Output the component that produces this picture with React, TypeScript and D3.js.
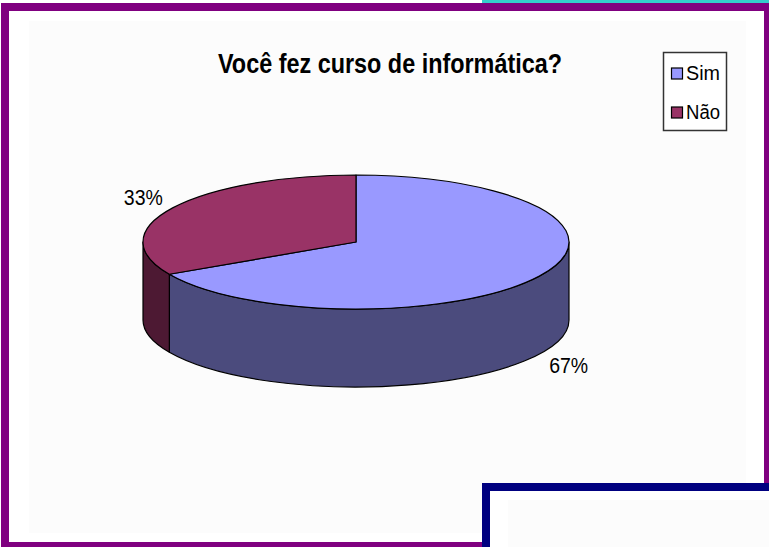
import * as d3 from "d3";
import { useEffect, useRef } from "react";

const categories = ["Sim", "Não"];
const values = [67, 33];
const labels = ["67%", "33%"];
const title = "Você fez curso de informática?";

const topColors = ["#9999ff", "#993366"];
const sideColors = ["#4b4b7d", "#4d1933"];

const W = 769;
const H = 547;

const App = () => {
  const ref = useRef<SVGSVGElement>(null);

  useEffect(() => {
    const svg = d3.select(ref.current);
    svg.selectAll("*").remove();

    // slide frames
    svg.append("rect").attr("x", 482).attr("y", 0).attr("width", 300).attr("height", 3).attr("fill", "#33cccc");
    svg.append("rect")
      .attr("x", 5).attr("y", 7).attr("width", 763).attr("height", 539)
      .attr("fill", "#ffffff").attr("stroke", "#800080").attr("stroke-width", 8);
    svg.append("rect").attr("x", 29).attr("y", 21).attr("width", 717).attr("height", 512).attr("fill", "#fcfcfc");
    svg.append("rect")
      .attr("x", 486).attr("y", 487).attr("width", 300).attr("height", 100)
      .attr("fill", "#ffffff").attr("stroke", "#000080").attr("stroke-width", 8);
    svg.append("rect").attr("x", 508).attr("y", 500).attr("width", 270).attr("height", 60).attr("fill", "#fcfcfc");

    // title
    svg.append("text")
      .attr("x", 390).attr("y", 73)
      .attr("text-anchor", "middle")
      .attr("font-family", "Liberation Sans, Arial, sans-serif")
      .attr("font-weight", "bold")
      .attr("font-size", 27)
      .attr("textLength", 344)
      .attr("lengthAdjust", "spacingAndGlyphs")
      .attr("fill", "#000")
      .text(title);

    // 3d pie
    const cx = 356, cy = 242, rx = 213, ry = 67, depth = 78;
    const pie = d3.pie<number>().sort(null).startAngle(0).endAngle(2 * Math.PI);
    const arcs = pie(values);

    const px = (a: number) => cx + rx * Math.sin(a);
    const py = (a: number) => cy - ry * Math.cos(a);

    const arcPath = (a0: number, a1: number, dy: number, sweep: number) => {
      const large = Math.abs(a1 - a0) > Math.PI ? 1 : 0;
      return `A${rx},${ry} 0 ${large} ${sweep} ${px(a1)},${py(a1) + dy}`;
    };

    const g = svg.append("g");

    // sides (front half only: pi/2 .. 3pi/2)
    arcs.forEach((d, i) => {
      const a0 = Math.max(d.startAngle, Math.PI / 2);
      const a1 = Math.min(d.endAngle, (3 * Math.PI) / 2);
      if (a1 <= a0) return;
      const p =
        `M${px(a0)},${py(a0)} ` + arcPath(a0, a1, 0, 1) +
        ` L${px(a1)},${py(a1) + depth} ` +
        `A${rx},${ry} 0 0 0 ${px(a0)},${py(a0) + depth} Z`;
      g.append("path")
        .attr("d", p)
        .attr("fill", sideColors[i])
        .attr("stroke", "#000")
        .attr("stroke-width", 1.2)
        .attr("stroke-linejoin", "round");
    });

    // tops
    arcs.forEach((d, i) => {
      const p =
        `M${cx},${cy} L${px(d.startAngle)},${py(d.startAngle)} ` +
        arcPath(d.startAngle, d.endAngle, 0, 1) + " Z";
      g.append("path")
        .attr("d", p)
        .attr("fill", topColors[i])
        .attr("stroke", "#000")
        .attr("stroke-width", 1.2)
        .attr("stroke-linejoin", "round");
    });

    // labels
    arcs.forEach((d, i) => {
      const m = (d.startAngle + d.endAngle) / 2;
      const lx = cx + rx * 1.16 * Math.sin(m);
      const front = Math.cos(m) < 0;
      const ly = cy - ry * 1.33 * Math.cos(m) + (front ? depth : 0);
      svg.append("text")
        .attr("x", lx).attr("y", ly + 8)
        .attr("text-anchor", "middle")
        .attr("font-family", "Liberation Sans, Arial, sans-serif")
        .attr("font-size", 22)
        .attr("textLength", 39)
        .attr("lengthAdjust", "spacingAndGlyphs")
        .attr("fill", "#000")
        .text(labels[i]);
    });

    // legend
    const leg = svg.append("g");
    leg.append("rect")
      .attr("x", 663.5).attr("y", 52.5).attr("width", 63).attr("height", 78)
      .attr("fill", "#ffffff").attr("stroke", "#333").attr("stroke-width", 1.5);
    const ly = d3.scalePoint<string>().domain(categories).range([73.5, 112.5]);
    categories.forEach((c, i) => {
      const y = ly(c) as number;
      leg.append("rect")
        .attr("x", 671.5).attr("y", y - 5.5).attr("width", 11).attr("height", 11)
        .attr("fill", topColors[i]).attr("stroke", "#000").attr("stroke-width", 1.2);
      leg.append("text")
        .attr("x", 686).attr("y", y + 6)
        .attr("font-family", "Liberation Sans, Arial, sans-serif")
        .attr("font-size", 20)
        .attr("textLength", 34)
        .attr("lengthAdjust", "spacingAndGlyphs")
        .attr("fill", "#000")
        .text(c);
    });
  }, []);

  return (
    <svg
      ref={ref}
      width={W}
      height={H}
      style={{ position: "absolute", left: 0, top: 0, background: "#fff" }}
    />
  );
};

export default App;
